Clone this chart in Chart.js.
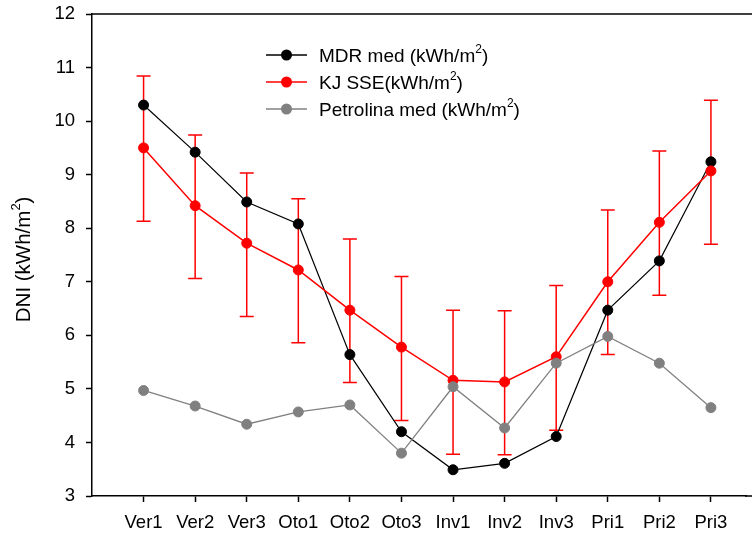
<!DOCTYPE html>
<html>
<head>
<meta charset="utf-8">
<script src="https://cdn.jsdelivr.net/npm/chart.js@4"></script>
<style>
  html, body { margin: 0; padding: 0; background: #fff; }
  #wrap { width: 752px; height: 535px; }
</style>
</head>
<body>
<div id="wrap"><canvas id="chart" width="752" height="535"></canvas></div>
<script>
const categories = ['Ver1', 'Ver2', 'Ver3', 'Oto1', 'Oto2', 'Oto3', 'Inv1', 'Inv2', 'Inv3', 'Pri1', 'Pri2', 'Pri3'];
const mdrMed = [10.30, 9.42, 8.49, 8.08, 5.64, 4.20, 3.49, 3.61, 4.11, 6.47, 7.39, 9.24];
const kjSse = [9.50, 8.42, 7.72, 7.22, 6.47, 5.78, 5.16, 5.13, 5.60, 7.00, 8.11, 9.07];
const kjUpper = [10.84, 9.74, 9.03, 8.55, 7.80, 7.10, 6.47, 6.46, 6.93, 8.34, 9.44, 10.39];
const kjLower = [8.13, 7.06, 6.35, 5.86, 5.12, 4.41, 3.78, 3.77, 4.23, 5.64, 6.75, 7.70];
const petrolinaMed = [4.97, 4.68, 4.34, 4.57, 4.70, 3.80, 5.04, 4.27, 5.48, 5.98, 5.48, 4.65];
const yTicks = [3, 4, 5, 6, 7, 8, 9, 10, 11, 12];
const seriesLabels = ['MDR med (kWh/m²)', 'KJ SSE(kWh/m²)', 'Petrolina med (kWh/m²)'];
const yTitle = 'DNI (kWh/m²)';

const FONT = 'Arial, "Liberation Sans", sans-serif';
const toXY = (vals) => vals.map((v, i) => ({ x: i, y: v }));

// text with a raised "2" in place of ²
function drawSupText(ctx, text, x, y, size) {
  const parts = text.split('²');
  let cx = x;
  parts.forEach((p, i) => {
    ctx.font = `${size}px ${FONT}`;
    ctx.fillText(p, cx, y);
    cx += ctx.measureText(p).width;
    if (i < parts.length - 1) {
      ctx.font = `${Math.round(size * 0.62)}px ${FONT}`;
      ctx.fillText('2', cx, y - size * 0.38);
      cx += ctx.measureText('2').width;
    }
  });
  return cx - x;
}

const errorBars = {
  id: 'errorBars',
  beforeDatasetsDraw(chart) {
    const { ctx, scales: { x, y } } = chart;
    ctx.save();
    ctx.strokeStyle = '#ff0000';
    ctx.lineWidth = 1.5;
    kjUpper.forEach((hi, i) => {
      const px = x.getPixelForValue(i);
      const top = y.getPixelForValue(hi);
      const bot = y.getPixelForValue(kjLower[i]);
      ctx.beginPath();
      ctx.moveTo(px, top); ctx.lineTo(px, bot);
      ctx.moveTo(px - 7, top); ctx.lineTo(px + 7, top);
      ctx.moveTo(px - 7, bot); ctx.lineTo(px + 7, bot);
      ctx.stroke();
    });
    ctx.restore();
  },
};

const frameAndLabels = {
  id: 'frameAndLabels',
  afterDraw(chart) {
    const { ctx, chartArea } = chart;
    ctx.save();
    // top frame line, bottom line carried to the canvas edge
    ctx.strokeStyle = '#000';
    ctx.lineWidth = 1.5;
    ctx.beginPath();
    ctx.moveTo(chartArea.left, chartArea.top);
    ctx.lineTo(chart.width, chartArea.top);
    ctx.moveTo(chartArea.right - 1, chartArea.bottom);
    ctx.lineTo(chart.width, chartArea.bottom);
    ctx.stroke();

    // y title
    ctx.fillStyle = '#000';
    ctx.textBaseline = 'middle';
    ctx.font = `20.5px ${FONT}`;
    ctx.translate(24, 259);
    ctx.rotate(-Math.PI / 2);
    const w = ctx.measureText(yTitle.replace('²', '')).width + 8;
    drawSupText(ctx, yTitle, -w / 2, 0, 20.5);
    ctx.restore();

    // legend
    ctx.save();
    const rows = [55, 82, 109];
    chart.data.datasets.forEach((ds, i) => {
      const yy = rows[i];
      ctx.strokeStyle = ds.borderColor;
      ctx.lineWidth = 1.5;
      ctx.beginPath();
      ctx.moveTo(266, yy); ctx.lineTo(307, yy);
      ctx.stroke();
      ctx.fillStyle = ds.backgroundColor;
      ctx.beginPath();
      ctx.arc(286.5, yy, 5.5, 0, Math.PI * 2);
      ctx.fill();
      ctx.fillStyle = '#000';
      ctx.textBaseline = 'middle';
      drawSupText(ctx, seriesLabels[i], 319, yy + 2, 19);
    });
    ctx.restore();
  },
};

new Chart(document.getElementById('chart'), {
  type: 'line',
  data: {
    datasets: [
      {
        label: seriesLabels[0],
        data: toXY(mdrMed),
        borderColor: '#000000',
        backgroundColor: '#000000',
        borderWidth: 1.2,
        pointRadius: 5,
        pointBorderWidth: 1,
        order: 3,
      },
      {
        label: seriesLabels[1],
        data: toXY(kjSse),
        borderColor: '#ff0000',
        backgroundColor: '#ff0000',
        borderWidth: 1.5,
        pointRadius: 5,
        pointBorderWidth: 1,
        order: 2,
      },
      {
        label: seriesLabels[2],
        data: toXY(petrolinaMed),
        borderColor: '#808080',
        backgroundColor: '#808080',
        borderWidth: 1.3,
        pointRadius: 5,
        pointBorderWidth: 1,
        order: 1,
      },
    ],
  },
  options: {
    responsive: false,
    animation: false,
    layout: { padding: { left: 0, right: 0, top: 14, bottom: 0 } },
    plugins: { legend: { display: false }, tooltip: { enabled: false } },
    scales: {
      x: {
        type: 'linear',
        min: -1,
        max: 11.68,
        afterBuildTicks: (s) => { s.ticks = categories.map((_, i) => ({ value: i })); },
        afterFit: (s) => { s.height = 39; s.paddingLeft = 0; s.paddingRight = 0; },
        grid: { display: true, drawOnChartArea: false, drawTicks: true, tickLength: 6, color: '#000', tickWidth: 1.5 },
        border: { display: true, color: '#000', width: 1.5 },
        ticks: {
          autoSkip: false,
          maxRotation: 0,
          padding: 10,
          color: '#000',
          font: { family: FONT, size: 18.5 },
          callback: (v) => categories[v] ?? '',
        },
      },
      y: {
        min: 3,
        max: 12,
        afterBuildTicks: (s) => { s.ticks = yTicks.map((v) => ({ value: v })); },
        afterFit: (s) => { s.width = 92; s.paddingTop = 0; s.paddingBottom = 0; },
        grid: { display: true, drawOnChartArea: false, drawTicks: true, tickLength: 6, color: '#000', tickWidth: 1.5 },
        border: { display: true, color: '#000', width: 1.5 },
        ticks: {
          padding: 11,
          color: '#000',
          font: { family: FONT, size: 18.5 },
        },
      },
    },
  },
  plugins: [errorBars, frameAndLabels],
});
</script>
</body>
</html>
